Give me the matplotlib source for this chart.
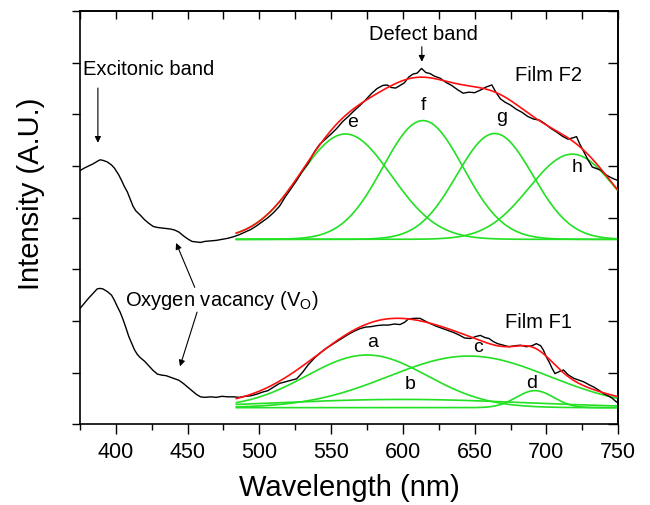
import numpy as np
import matplotlib
matplotlib.use('Agg')
import matplotlib.pyplot as plt
from matplotlib.ticker import MultipleLocator

plt.rcParams['font.family'] = ['Liberation Sans', 'DejaVu Sans']

# measured PL spectra (wavelength nm, intensity a.u.)
f2_pts = [(375, 4.91), (378, 4.96), (381, 5.00), (384, 5.04), (387, 5.09), (389, 5.12),
          (391, 5.11), (394, 5.08), (397, 5.02), (399, 4.96), (402, 4.83), (404, 4.72),
          (406, 4.60), (408, 4.50), (410, 4.36), (412, 4.22), (414, 4.13), (417, 4.05),
          (420, 3.96), (423, 3.89), (426, 3.83), (429, 3.81), (432, 3.80), (435, 3.79),
          (438, 3.78), (441, 3.76), (444, 3.72), (447, 3.65), (450, 3.59), (453, 3.54),
          (456, 3.53), (459, 3.52), (462, 3.54), (466, 3.55), (470, 3.56), (474, 3.58),
          (478, 3.60), (482, 3.63), (486, 3.67), (490, 3.72), (494, 3.77), (498, 3.84),
          (502, 3.92), (506, 4.00), (510, 4.10), (514, 4.22), (518, 4.40), (522, 4.56),
          (526, 4.72), (530, 4.90), (534, 5.05), (538, 5.26), (542, 5.42), (546, 5.52),
          (550, 5.62), (554, 5.73), (558, 5.86), (562, 5.96), (566, 6.07), (570, 6.17),
          (574, 6.28), (578, 6.40), (582, 6.50), (586, 6.56), (589, 6.57), (592, 6.52),
          (595, 6.51), (598, 6.56), (601, 6.61), (604, 6.72), (607, 6.78), (610, 6.80),
          (613, 6.89), (616, 6.81), (619, 6.79), (622, 6.74), (626, 6.70), (630, 6.62),
          (634, 6.56), (638, 6.48), (642, 6.41), (646, 6.43), (650, 6.42), (654, 6.47),
          (658, 6.53), (662, 6.57), (665, 6.42), (668, 6.30), (671, 6.24), (675, 6.18),
          (679, 6.10), (683, 6.04), (687, 5.96), (691, 5.91), (695, 5.89), (699, 5.82),
          (703, 5.73), (707, 5.66), (711, 5.58), (715, 5.52), (719, 5.55), (721, 5.57),
          (723, 5.44), (726, 5.28), (729, 5.12), (732, 4.98), (735, 4.95), (738, 4.92),
          (741, 4.84), (744, 4.79), (747, 4.75), (750, 4.72)]

f1_pts = [(375, 2.24), (378, 2.34), (381, 2.44), (384, 2.53), (387, 2.62), (389, 2.63),
          (391, 2.62), (394, 2.57), (397, 2.50), (399, 2.40), (401, 2.28), (403, 2.17),
          (405, 2.03), (407, 1.87), (409, 1.70), (411, 1.57), (413, 1.44), (415, 1.35),
          (417, 1.29), (420, 1.22), (423, 1.13), (426, 1.04), (429, 0.97), (432, 0.95),
          (435, 0.94), (438, 0.91), (441, 0.88), (444, 0.85), (447, 0.79), (450, 0.72),
          (453, 0.65), (456, 0.58), (459, 0.53), (462, 0.52), (466, 0.53), (470, 0.52),
          (474, 0.54), (478, 0.53), (482, 0.53), (486, 0.52), (490, 0.54), (494, 0.55),
          (498, 0.58), (502, 0.62), (506, 0.65), (510, 0.72), (514, 0.79), (518, 0.82),
          (522, 0.85), (526, 0.88), (530, 1.00), (534, 1.15), (538, 1.27), (542, 1.37),
          (546, 1.46), (550, 1.53), (554, 1.60), (558, 1.67), (562, 1.74), (566, 1.80),
          (570, 1.85), (574, 1.88), (578, 1.89), (582, 1.91), (586, 1.92), (590, 1.92),
          (594, 1.94), (598, 1.93), (601, 1.97), (604, 2.04), (608, 2.05), (612, 2.05),
          (616, 1.99), (619, 1.95), (623, 1.90), (627, 1.86), (631, 1.82), (635, 1.78),
          (639, 1.73), (643, 1.67), (647, 1.66), (651, 1.70), (654, 1.72), (657, 1.68),
          (660, 1.66), (663, 1.60), (666, 1.56), (670, 1.53), (674, 1.50), (678, 1.52),
          (682, 1.53), (686, 1.50), (690, 1.52), (693, 1.56), (696, 1.52), (698, 1.43),
          (700, 1.30), (702, 1.20), (704, 1.08), (706, 0.98), (709, 1.02), (712, 1.05),
          (715, 0.96), (719, 0.89), (722, 0.86), (726, 0.82), (730, 0.76), (733, 0.72),
          (737, 0.65), (740, 0.59), (743, 0.55), (746, 0.50), (748, 0.45), (750, 0.41)]

# gaussian fit components: label -> (centre nm, height, sigma nm)
fit_range = (484, 750)
f2_base = 3.58
f2_peaks = {'e': (560, 2.04, 32), 'f': (614, 2.30, 28),
            'g': (664, 2.05, 26.5), 'h': (718, 1.65, 30)}
f1_base = 0.32
f1_peaks = {'a': (575, 1.02, 42), 'b': (600, 0.16, 85),
            'c': (646, 1.00, 56), 'd': (692, 0.33, 13)}

# peak letter positions
f2_letters = {'e': (565, 5.85), 'f': (614, 6.18), 'g': (668.6, 5.93), 'h': (721.6, 4.98)}
f1_letters = {'a': (579, 1.59), 'b': (605, 0.76), 'c': (652, 1.49), 'd': (690, 0.78)}

GREEN = '#22e022'
RED = '#ff1010'

fig = plt.figure(figsize=(6.5, 5.05), dpi=100)
ax = fig.add_axes([0.123, 0.160, 0.828, 0.818])

xf = np.linspace(fit_range[0], fit_range[1], 400)


def gauss(x, c, h, s):
    return h * np.exp(-(x - c) ** 2 / (2 * s ** 2))


for pts, base, peaks, letters in [(f2_pts, f2_base, f2_peaks, f2_letters),
                                  (f1_pts, f1_base, f1_peaks, f1_letters)]:
    d = np.array(pts)
    ax.plot(d[:, 0], d[:, 1], color='black', lw=1.0, zorder=3)
    total = np.zeros_like(xf)
    for name, (c, h, s) in peaks.items():
        g = gauss(xf, c, h, s)
        total += g
        ax.plot(xf, base + g, color=GREEN, lw=1.2, zorder=2)
    ax.plot(xf, base + total, color=RED, lw=1.2, zorder=4)
    for name, (lx, ly) in letters.items():
        ax.text(lx, ly, name, fontsize=14, ha='center', va='center')

arw = dict(arrowstyle='-|>', color='black', lw=0.8, mutation_scale=9, shrinkA=0, shrinkB=0)
ax.text(377, 6.86, 'Excitonic band', fontsize=14.5, va='center')
ax.annotate('', xy=(387.5, 5.45), xytext=(387.5, 6.51), arrowprops=arw)
ax.text(614, 7.54, 'Defect band', fontsize=14.5, va='center', ha='center')
ax.annotate('', xy=(613.2, 7.02), xytext=(613.2, 7.31), arrowprops=arw)
ax.text(406.4, 2.40, r'Oxygen vacancy (V$_\mathregular{O}$)', fontsize=14.5, va='center')
ax.annotate('', xy=(442, 3.51), xytext=(455, 2.65), arrowprops=arw)
ax.annotate('', xy=(444.7, 1.12), xytext=(456.6, 2.17), arrowprops=arw)
ax.text(678, 6.76, 'Film F2', fontsize=14.5, va='center')
ax.text(671, 1.96, 'Film F1', fontsize=14.5, va='center')

ax.set_xlim(375, 750)
ax.set_ylim(0, 8)
ax.xaxis.set_major_locator(MultipleLocator(50))
ax.xaxis.set_minor_locator(MultipleLocator(25))
ax.yaxis.set_major_locator(MultipleLocator(1))
ax.set_yticklabels([])
ax.tick_params(axis='x', which='major', direction='out', length=7, width=1.0, labelsize=15.5, pad=6)
ax.tick_params(axis='x', which='minor', direction='out', length=4, width=1.0)
ax.tick_params(axis='y', which='major', direction='out', length=6, width=1.0)

top = ax.secondary_xaxis('top')
top.xaxis.set_major_locator(MultipleLocator(25))
top.tick_params(direction='in', length=6, width=1.0, labeltop=False)
right = ax.secondary_yaxis('right')
right.yaxis.set_major_locator(MultipleLocator(1))
right.tick_params(direction='in', length=7, width=1.0, labelright=False)

for sp in list(ax.spines.values()) + [top.spines['top'], right.spines['right']]:
    sp.set_linewidth(1.2)

ax.set_xlabel('Wavelength (nm)', fontsize=21, labelpad=8)
ax.set_ylabel('Intensity (A.U.)', fontsize=21)
ax.yaxis.set_label_coords(-0.065, 0.558)

fig.savefig('out.png', dpi=100)
